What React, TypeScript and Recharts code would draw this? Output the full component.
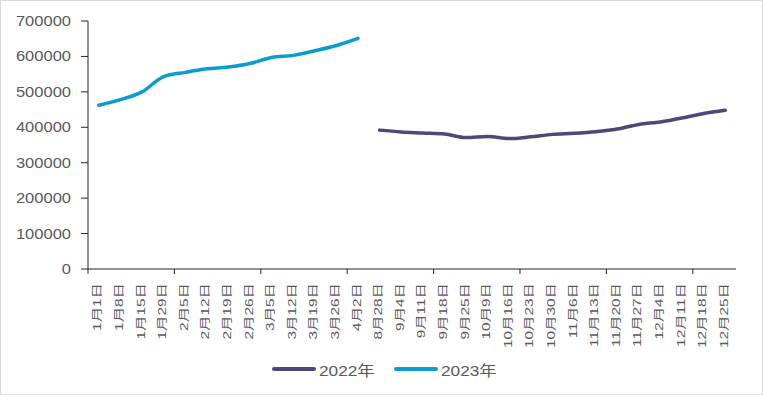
import { LineChart, Line, XAxis, YAxis } from 'recharts';

const categories = [
  '1月1日', '1月8日', '1月15日', '1月29日', '2月5日', '2月12日', '2月19日', '2月26日',
  '3月5日', '3月12日', '3月19日', '3月26日', '4月2日', '8月28日', '9月4日', '9月11日',
  '9月18日', '9月25日', '10月9日', '10月16日', '10月23日', '10月30日', '11月6日',
  '11月13日', '11月20日', '11月27日', '12月4日', '12月11日', '12月18日', '12月25日',
];

// 2023 covers the first 13 weeks, 2022 the remaining 17
const values2023 = [
  462000, 478000, 500000, 543000, 555000, 565000, 570000, 580000, 597000, 603000, 616000,
  631000, 651000,
];
const values2022 = [
  392000, 387000, 384000, 381000, 371000, 374000, 368000, 373000, 380000, 383000, 387500,
  395000, 408000, 415000, 426000, 439000, 448000,
];
const yTicks = [0, 100000, 200000, 300000, 400000, 500000, 600000, 700000];

const series = [
  { key: 'y2022', name: '2022年', color: '#4E4879' },
  { key: 'y2023', name: '2023年', color: '#0A9BCF' },
];

const offset2022 = categories.length - values2022.length;
const data = categories.map((c, i) => ({
  date: c,
  y2023: i < values2023.length ? values2023[i] : null,
  y2022: i >= offset2022 ? values2022[i - offset2022] : null,
}));

const W = 763;
const H = 395;
const margin = { top: 21, right: 27, left: 8, bottom: 46 };
const yAxisWidth = 80;
const band = (W - margin.left - margin.right - yAxisWidth) / categories.length;
const ink = '#595959';
const axisColor = '#262626';
const font = '"Liberation Sans", Arial, "Noto Sans CJK SC", sans-serif';

function XTick(props: any) {
  const { x, y, payload, index } = props;
  return (
    <g transform={`translate(${x},${y})`}>
      {index % 4 === 0 && (
        <line x1={-band / 2} x2={-band / 2} y1={0} y2={5} stroke={axisColor} strokeWidth={1} />
      )}
      <text
        transform="translate(-1,14) rotate(-90) scale(1.4,1)"
        textAnchor="end"
        dominantBaseline="central"
        fontSize={11}
        fill={ink}
        fontFamily={font}
      >
        {payload.value}
      </text>
    </g>
  );
}

function YTick(props: any) {
  const { x, y, payload } = props;
  return (
    <text
      transform={`translate(${x},${y}) scale(1.18,1)`}
      textAnchor="end"
      dominantBaseline="central"
      fontSize={14}
      fill={ink}
      fontFamily={font}
    >
      {payload.value}
    </text>
  );
}

export default function App() {
  return (
    <div style={{ position: 'absolute', left: 0, top: 0, width: W, height: H, background: '#fff' }}>
      <LineChart width={W} height={H} data={data} margin={margin}>
        <XAxis
          dataKey="date"
          scale="band"
          interval={0}
          height={80}
          tickLine={false}
          tickSize={0}
          tickMargin={0}
          axisLine={{ stroke: axisColor, strokeWidth: 1 }}
          tick={<XTick />}
        />
        <YAxis
          width={yAxisWidth}
          domain={[0, 700000]}
          ticks={yTicks}
          interval={0}
          tickSize={7}
          tickMargin={10}
          tickLine={{ stroke: axisColor }}
          axisLine={{ stroke: axisColor, strokeWidth: 1 }}
          tick={<YTick />}
        />
        {series.map((s) => (
          <Line
            key={s.key}
            type="monotone"
            dataKey={s.key}
            name={s.name}
            stroke={s.color}
            strokeWidth={3.5}
            strokeLinecap="round"
            dot={false}
            activeDot={false}
            connectNulls={false}
            isAnimationActive={false}
          />
        ))}
      </LineChart>
      <div
        style={{
          position: 'absolute',
          left: 272,
          top: 359,
          display: 'flex',
          alignItems: 'center',
          fontFamily: font,
          fontSize: 15,
          color: ink,
          height: 20,
        }}
      >
        {series.map((s, i) => (
          <div key={s.key} style={{ display: 'flex', alignItems: 'center', marginLeft: i ? 19 : 0 }}>
            <div style={{ width: 44, height: 4, borderRadius: 2, background: s.color, marginRight: 3 }} />
            <div style={{ width: 56, whiteSpace: 'nowrap' }}>
              <span style={{ display: 'inline-block', transform: 'scaleX(1.15)', transformOrigin: 'left center' }}>
                {s.name}
              </span>
            </div>
          </div>
        ))}
      </div>
      <div
        style={{
          position: 'absolute',
          inset: 0,
          border: '1px solid #d9d9d9',
          pointerEvents: 'none',
        }}
      />
    </div>
  );
}
